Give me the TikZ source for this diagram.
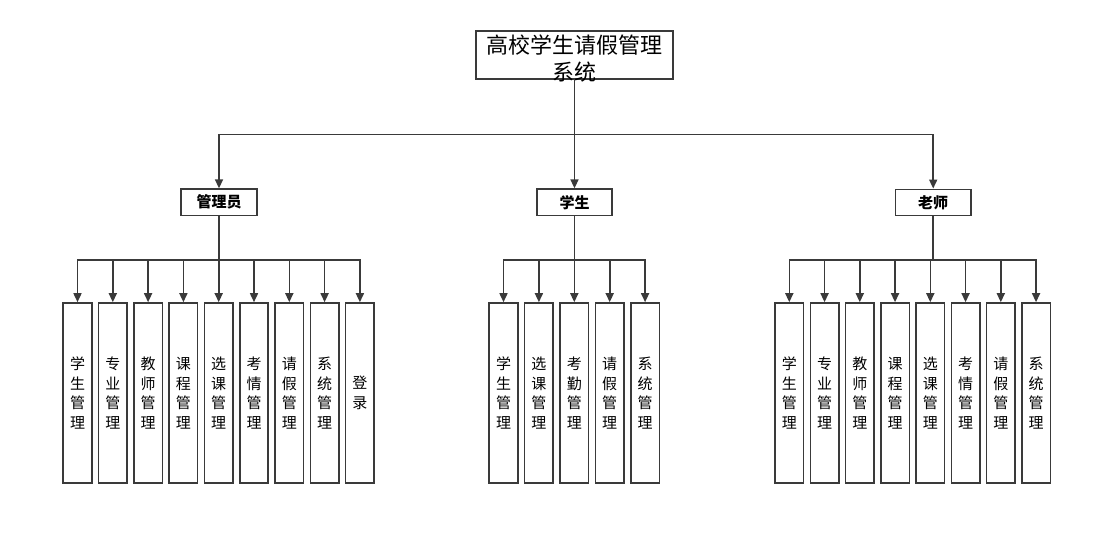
\documentclass[tikz,border=0pt]{standalone}
\usepackage{fontspec}
\setmainfont{Noto Sans CJK SC}
\usepackage{xcolor}
\usetikzlibrary{arrows.meta}

\definecolor{linegray}{HTML}{3A3A3A}

\begin{document}
\begin{tikzpicture}[x=1pt, y=-1pt,
        conn/.style={draw=linegray, line width=1.6pt},
        arr/.style={conn, -{Triangle[length=9pt, width=8pt]}},
        topbox/.style={conn, rectangle, minimum width=197pt, minimum height=48.5pt, inner sep=0pt},
        toptext/.style={align=center, inner sep=0pt, font=\fontsize{22}{27}\selectfont},
        rolebox/.style={conn, rectangle, minimum width=75.5pt, minimum height=26.3pt, inner sep=0pt,
            font=\fontsize{15}{18}\selectfont\bfseries},
        leaf/.style={conn, rectangle, minimum width=28.5pt, minimum height=180pt, inner sep=0pt,
            align=center, font=\fontsize{15}{19.5}\selectfont}]
    \useasboundingbox (0,0) rectangle (1104,544);

    \node[topbox] (sys) at (574.5,55) {};
    \node[toptext] (systitle) at (574.5,58.5) {高校学生请假管理\\系统};

    \node[rolebox] (admin) at (219,202.3) {管理员};
    \node[rolebox] (stu)   at (574.5,202.3) {学生};
    \node[rolebox] (tea)   at (933.2,202.5) {老师};

    % system -> roles
    \coordinate (sysbus) at (sys.south |- 0,134.3);
    \draw[conn] (sys) -- (sysbus);
    \draw[arr] (sysbus) -| (admin);
    \draw[arr] (sysbus) -- (stu);
    \draw[arr] (sysbus) -| (tea);

    % admin
    \foreach \lab [count=\i] in {{学\\生\\管\\理}, {专\\业\\管\\理}, {教\\师\\管\\理}, {课\\程\\管\\理},
            {选\\课\\管\\理}, {考\\情\\管\\理}, {请\\假\\管\\理}, {系\\统\\管\\理}, {登\\录}}
        \node[leaf] (adm\i) at ({77.5+35.3*(\i-1)},393) {\lab};
    \coordinate (admbus) at (admin.south |- 0,259.7);
    \draw[conn] (admin) -- (admbus);
    \foreach \i in {1,...,9}
        \draw[arr] (admbus) -| (adm\i);

    % student
    \foreach \lab [count=\i] in {{学\\生\\管\\理}, {选\\课\\管\\理}, {考\\勤\\管\\理}, {请\\假\\管\\理},
            {系\\统\\管\\理}}
        \node[leaf] (stu\i) at ({503.5+35.4*(\i-1)},393) {\lab};
    \coordinate (stubus) at (stu.south |- 0,259.7);
    \draw[conn] (stu) -- (stubus);
    \foreach \i in {1,...,5}
        \draw[arr] (stubus) -| (stu\i);

    % teacher
    \foreach \lab [count=\i] in {{学\\生\\管\\理}, {专\\业\\管\\理}, {教\\师\\管\\理}, {课\\程\\管\\理},
            {选\\课\\管\\理}, {考\\情\\管\\理}, {请\\假\\管\\理}, {系\\统\\管\\理}}
        \node[leaf] (tea\i) at ({789.3+35.25*(\i-1)},393) {\lab};
    \coordinate (teabus) at (tea.south |- 0,259.7);
    \draw[conn] (tea) -- (teabus);
    \foreach \i in {1,...,8}
        \draw[arr] (teabus) -| (tea\i);
\end{tikzpicture}
\end{document}
